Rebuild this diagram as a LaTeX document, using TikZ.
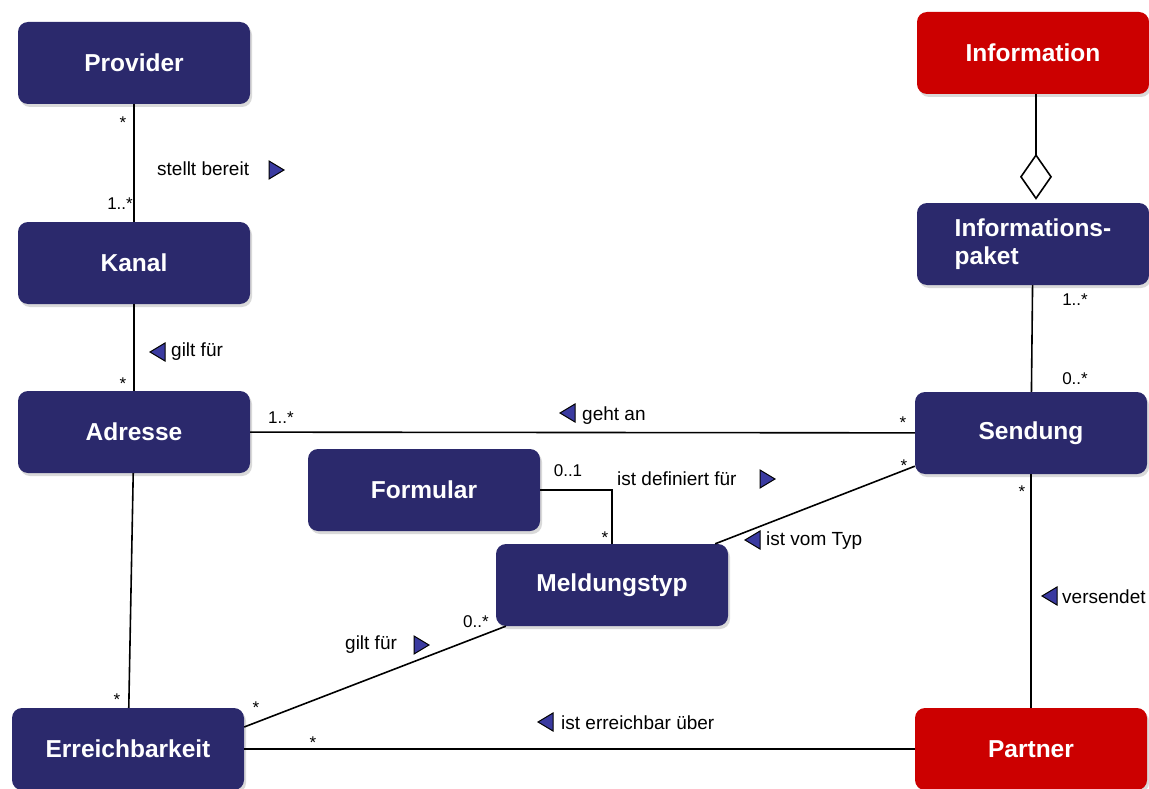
\documentclass[tikz,border=0pt]{standalone}
\usepackage{fontspec}
\setmainfont{Liberation Sans}
\usetikzlibrary{arrows.meta,shadows}
\definecolor{navy}{RGB}{43,41,108}
\definecolor{klassrot}{RGB}{204,0,0}
\definecolor{pfeilblau}{RGB}{58,58,160}
\tikzset{
  klasse/.style={fill=navy, rounded corners=10pt, minimum width=232pt, minimum height=82pt,
    text=white, font=\fontsize{24.5}{28}\selectfont\bfseries,
    drop shadow={shadow xshift=2pt, shadow yshift=-3pt, opacity=.3}},
  wurzel/.style={klasse, fill=klassrot},
  rel/.style={line width=1.6pt},
  lab/.style={font=\fontsize{19}{21}\selectfont, inner sep=0pt, anchor=west},
  mult/.style={font=\fontsize{17}{19}\selectfont, inner sep=0pt},
  dir/.style={draw=black, fill=pfeilblau, line width=1pt}
}
\begin{document}
\begin{tikzpicture}[x=1pt,y=-1pt]
\useasboundingbox (0,0) rectangle (1149,789);

% Klassen
\node[klasse] (provider) at (134,63) {Provider};
\node[klasse] (kanal) at (134,263) {Kanal};
\node[klasse] (adresse) at (134,432) {Adresse};
\node[klasse] (erreich) at (128,749) {Erreichbarkeit};
\node[klasse] (formular) at (424,490) {Formular};
\node[klasse] (meldung) at (612,585) {Meldungstyp};
\node[wurzel] (info) at (1033,53) {Information};
\node[klasse, align=left] (paket) at (1033,244) {Informations-\\paket};
\node[klasse] (sendung) at (1031,433) {Sendung};
\node[wurzel] (partner) at (1031,749) {Partner};

% Beziehungen
\draw[rel] (provider) -- (kanal);
\draw[rel] (kanal) -- (adresse);
\draw[rel] (adresse) -- (erreich);
\draw[rel] (adresse) -- (sendung);
\draw[rel] (formular.east) -| (meldung.north);
\draw[rel] ([yshift=8pt]sendung.south west) -- ([xshift=-13pt]meldung.north east);
\draw[rel] ([xshift=10pt]meldung.south west) -- ([yshift=22pt]erreich.east);
\draw[rel] (erreich) -- (partner);
\draw[rel] (paket) -- (sendung);
\draw[rel] (sendung) -- (partner);
\draw[rel, -{Diamond[open, length=46pt, width=32pt]}] ([xshift=3pt]info.south) -- ([xshift=3pt,yshift=3pt]paket.north);

% Rollennamen
\node[lab] (lStellt) at (157,169) {stellt bereit};
\filldraw[dir] (269,161) -- (284,170) -- (269,179) -- cycle;
\node[lab] (lGiltA) at (171,352) {gilt für};
\filldraw[dir] (165,343) -- (150,352) -- (165,361) -- cycle;
\node[lab] (lGeht) at (582,416) {geht an};
\filldraw[dir] (575,404) -- (560,413) -- (575,422) -- cycle;
\node[lab] (lDef) at (617,479) {ist definiert für};
\filldraw[dir] (760,470) -- (775,479) -- (760,488) -- cycle;
\node[lab] (lTyp) at (766,541) {ist vom Typ};
\filldraw[dir] (760,531) -- (745,540) -- (760,549) -- cycle;
\node[lab] (lVers) at (1062,597) {versendet};
\filldraw[dir] (1057,587) -- (1042,596) -- (1057,605) -- cycle;
\node[lab] (lGiltB) at (345,645) {gilt für};
\filldraw[dir] (414,636) -- (429,645) -- (414,654) -- cycle;
\node[lab] (lErr) at (561,723) {ist erreichbar über};
\filldraw[dir] (553,713) -- (538,722) -- (553,731) -- cycle;

% Multiplizitaeten
\node[mult] (m1) at (123,123) {*};
\node[mult, anchor=east] (m2) at (133,204) {1..*};
\node[mult] (m3) at (123,384) {*};
\node[mult] (m4) at (281,418) {1..*};
\node[mult] (m5) at (903,423) {*};
\node[mult] (m6) at (568,471) {0..1};
\node[mult] (m7) at (605,538) {*};
\node[mult] (m8) at (904,466) {*};
\node[mult] (m9) at (1075,300) {1..*};
\node[mult] (m10) at (1075,379) {0..*};
\node[mult] (m11) at (1022,492) {*};
\node[mult] (m12) at (476,622) {0..*};
\node[mult] (m13) at (256,708) {*};
\node[mult] (m14) at (117,700) {*};
\node[mult] (m15) at (313,743) {*};
\end{tikzpicture}
\end{document}
